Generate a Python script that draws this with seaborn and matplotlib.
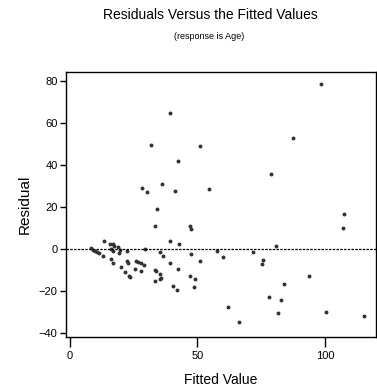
import numpy as np
import pandas as pd
import seaborn as sns
import matplotlib
matplotlib.use('Agg')
import matplotlib.pyplot as plt

# fitted values and residuals
fitted = [8.2, 8.9, 9.8, 10.7, 11.5, 12.8, 13.2,
          15.7, 16.7, 16.1, 16.7, 17.4, 18.9, 19.7, 19.4, 22.3,
          16.1, 16.9, 20.0, 21.7, 23.1, 22.4, 22.6, 25.5,
          25.7, 26.8, 27.7, 29.0, 27.8, 28.1, 30.1, 29.3,
          33.5, 34.1, 36.1, 41.2, 33.5, 33.9, 33.3, 35.2, 35.3, 35.6,
          35.4, 36.5, 39.1, 42.6, 39.1, 40.3, 42.1, 42.2,
          46.9, 47.3, 47.3, 46.9, 49.0, 48.8, 50.9, 54.4,
          39.1, 31.6, 50.9, 42.2, 98.3, 87.3, 78.8,
          107.3, 107.1, 80.7, 57.5, 60.1, 71.9, 75.8, 75.4,
          93.7, 84.0, 78.0, 82.6, 62.0, 81.6, 100.4, 115.3, 66.1, 23.5]
residual = [0.6, -0.3, -1.0, -1.5, -2.1, -3.4, 4.0,
            2.3, 2.2, 0.0, -1.0, 1.6, 0.9, -0.5, -1.8, -1.0,
            -4.8, -6.8, -8.8, -11.0, -13.0, -5.8, -6.7, -9.4,
            -5.6, -6.1, -6.8, -7.8, -10.3, 29.0, 27.0, 0.0,
            10.8, 18.9, 31.1, 27.6, -10.0, -10.5, -15.1, -11.9, -14.5, -13.7,
            -1.4, -3.5, 4.0, 2.5, -6.8, -17.9, -19.8, -9.8,
            11.1, 9.5, -2.2, -12.7, -14.1, -18.3, -5.6, 28.6,
            64.9, 49.4, 49.0, 41.9, 78.4, 52.7, 35.9,
            16.8, 10.2, 1.4, -1.1, -4.0, -1.7, -5.5, -7.1,
            -12.7, -16.7, -22.7, -24.4, -27.5, -30.5, -30.2, -31.9, -34.8, -13.2]

x_ticks = [0, 50, 100]
y_ticks = [-40, -20, 0, 20, 40, 60, 80]

sns.set_theme(style="ticks")
plt.rcParams['font.family'] = ['Liberation Sans', 'DejaVu Sans']
plt.rcParams['text.color'] = 'black'
plt.rcParams['axes.labelcolor'] = 'black'

df = pd.DataFrame({"Fitted Value": fitted, "Residual": residual})

fig = plt.figure(figsize=(3.77, 3.89), dpi=100)
ax = fig.add_axes([0.175, 0.134, 0.822, 0.681])

sns.scatterplot(data=df, x="Fitted Value", y="Residual", ax=ax,
                color="#333333", s=8, linewidth=0, legend=False)
ax.axhline(0, color="black", lw=0.9, ls=(0, (2, 1)))

ax.set_xlim(-1.6, 120)
ax.set_ylim(-41.9, 84.3)
ax.set_xticks(x_ticks)
ax.set_yticks(y_ticks)
for s in ax.spines.values():
    s.set_linewidth(1.0)
    s.set_color("black")
ax.tick_params(axis="x", length=7, width=1, labelsize=8, pad=3, colors="black")
ax.tick_params(axis="y", length=4, width=1, labelsize=8, pad=2, colors="black")
ax.set_xlabel("Fitted Value", fontsize=10, labelpad=9)
ax.set_ylabel("Residual", fontsize=11, labelpad=5)

fig.text(0.558, 0.962, "Residuals Versus the Fitted Values", ha="center", va="center", fontsize=10)
fig.text(0.556, 0.905, "(response is Age)", ha="center", va="center", fontsize=6.5)

plt.savefig("out.png", dpi=100)
